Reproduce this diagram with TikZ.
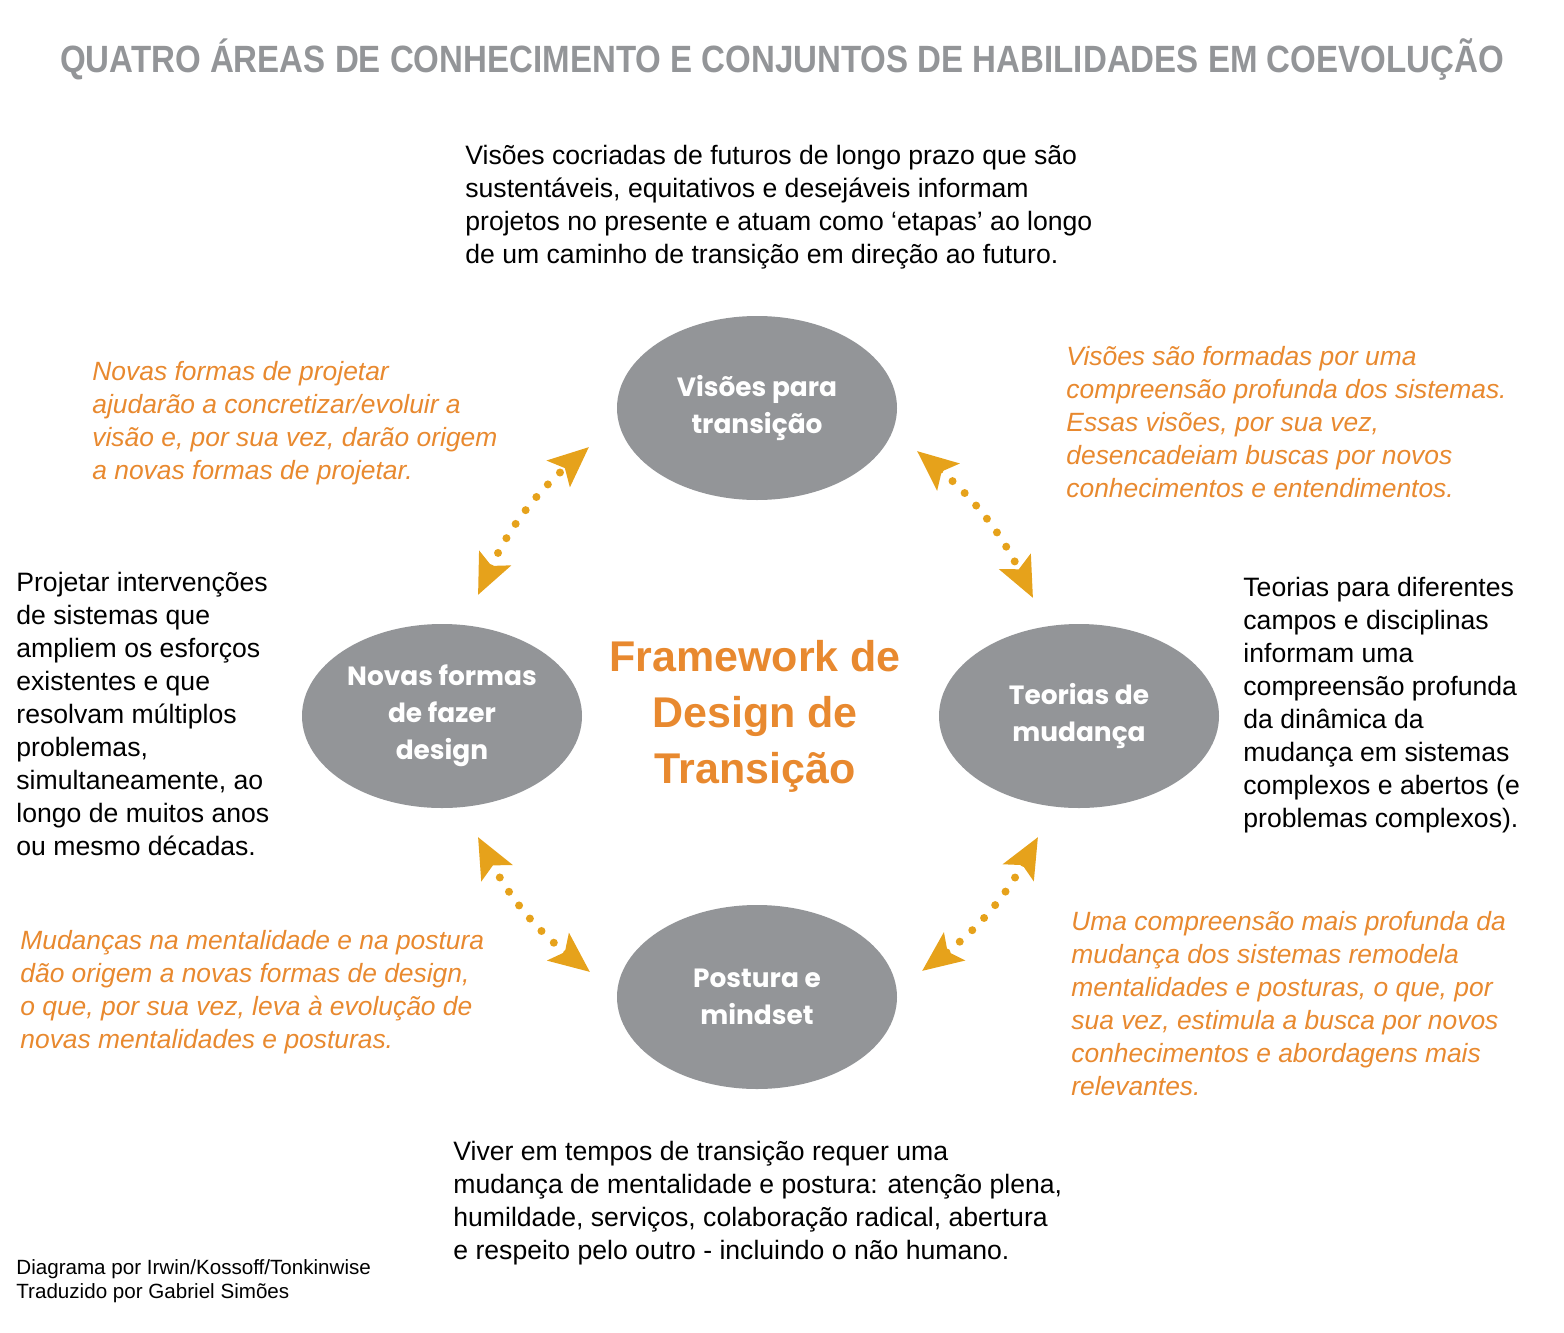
\documentclass[tikz,border=0pt]{standalone}
\usepackage{fontspec}
\setmainfont{Liberation Sans}
\newfontfamily\ovalfont{Poppins}
\usepackage{tikz}
\usetikzlibrary{shapes.geometric,arrows.meta}
\usepackage{xcolor}
\definecolor{ovalgray}{HTML}{939598}
\definecolor{noteorange}{HTML}{E8892F}
\definecolor{arrowgold}{HTML}{E6A21B}

\begin{document}
\begin{tikzpicture}[x=0.5pt,y=-0.5pt,
  >={Stealth[length=20pt,width=17pt,inset=4pt]},
  oval/.style={ellipse,fill=ovalgray,minimum width=140pt,minimum height=92pt,inner sep=0pt,
    text=white,align=center,font=\ovalfont\bfseries\fontsize{13.2}{18.5}\selectfont},
  body/.style={anchor=base west,inner sep=0pt,align=left,font=\fontsize{13.3}{16.5}\selectfont},
  note/.style={body,text=noteorange,font=\itshape\fontsize{13.2}{16.5}\selectfont},
  dotlink/.style={<->,draw=arrowgold,line width=4pt,line cap=round,dash pattern=on 0pt off 8.5pt}]
\useasboundingbox (0,0) rectangle (1564,1333);

\node[anchor=base,inner sep=0pt,text=ovalgray,font=\bfseries\fontsize{19}{19}\selectfont] (title) at (782,72)
  {\scalebox{0.87}[1]{QUATRO ÁREAS DE CONHECIMENTO E CONJUNTOS DE HABILIDADES EM COEVOLUÇÃO}};

\node[oval] (vis) at (757,408) {Visões para\\transição};
\node[oval] (nov) at (442,716) {Novas formas\\de fazer\\design};
\node[oval] (teo) at (1079,716) {Teorias de\\mudança};
\node[oval] (pos) at (757,997) {Postura e\\mindset};
\node[align=center,text=noteorange,font=\bfseries\fontsize{21.5}{28}\selectfont] (fw) at (755,716)
  {Framework de\\Design de\\Transição};

\coordinate (a1) at (478,595);
\coordinate (a2) at (589,447);
\coordinate (b1) at (917,451);
\coordinate (b2) at (1033,598);
\coordinate (c1) at (1038,837);
\coordinate (c2) at (922,971);
\coordinate (d1) at (590,972);
\coordinate (d2) at (478,837);
\draw[dotlink] (a1) to[bend left=12] (a2);
\draw[dotlink] (b1) to[bend left=12] (b2);
\draw[dotlink] (c1) to[bend left=12] (c2);
\draw[dotlink] (d1) to[bend left=12] (d2);

% base anchor sits on the last line
\node[body] (tvis) at (465,263) {Visões cocriadas de futuros de longo prazo que são\\
  sustentáveis, equitativos e desejáveis informam\\
  projetos no presente e atuam como ‘etapas’ ao longo\\
  de um caminho de transição em direção ao futuro.};
\node[body] (tnov) at (16,855) {Projetar intervenções\\de sistemas que\\ampliem os esforços\\existentes e que\\
  resolvam múltiplos\\problemas,\\simultaneamente, ao\\longo de muitos anos\\ou mesmo décadas.};
\node[body] (tteo) at (1243,827) {Teorias para diferentes\\campos e disciplinas\\informam uma\\compreensão profunda\\
  da dinâmica da\\mudança em sistemas\\complexos e abertos (e\\problemas complexos).};
\node[body] (tpos) at (453,1259) {Viver em tempos de transição requer uma\\
  mudança de mentalidade e postura: atenção plena,\\
  humildade, serviços, colaboração radical, abertura\\
  e respeito pelo outro - incluindo o não humano.};

\node[note] (nvn) at (92,479) {Novas formas de projetar\\ajudarão a concretizar/evoluir a\\
  visão e, por sua vez, darão origem\\a novas formas de projetar.};
\node[note] (nvt) at (1066,497) {Visões são formadas por uma\\compreensão profunda dos sistemas.\\
  Essas visões, por sua vez,\\desencadeiam buscas por novos\\conhecimentos e entendimentos.};
\node[note] (npn) at (20,1048) {Mudanças na mentalidade e na postura\\dão origem a novas formas de design,\\
  o que, por sua vez, leva à evolução de\\novas mentalidades e posturas.};
\node[note] (ntp) at (1071,1095) {Uma compreensão mais profunda da\\mudança dos sistemas remodela\\
  mentalidades e posturas, o que, por\\sua vez, estimula a busca por novos\\
  conhecimentos e abordagens mais\\relevantes.};

\node[body,font=\fontsize{10.3}{12}\selectfont] (credit) at (16,1298)
  {Diagrama por Irwin/Kossoff/Tonkinwise\\Traduzido por Gabriel Simões};
\end{tikzpicture}
\end{document}
